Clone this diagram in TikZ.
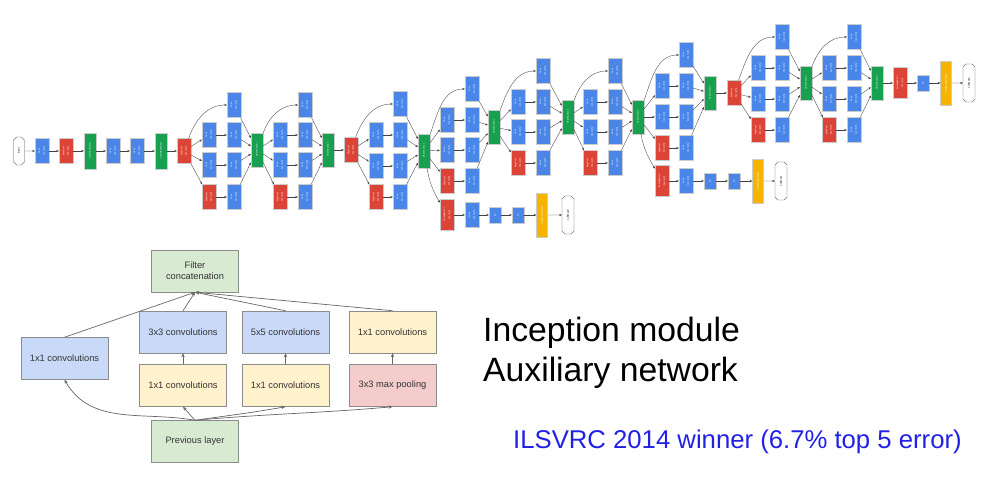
\documentclass[tikz,border=0pt]{standalone}
\usepackage{fontspec}
\usepackage{graphicx}
\setmainfont{Liberation Sans}
\usetikzlibrary{arrows.meta,shapes.misc}

\definecolor{gblue}{HTML}{4A86E8}
\definecolor{gred}{HTML}{DB4437}
\definecolor{ggreen}{HTML}{16A050}
\definecolor{gyellow}{HTML}{F6B400}
\definecolor{lblue}{HTML}{C9DAF8}
\definecolor{lyellow}{HTML}{FFF2CC}
\definecolor{lred}{HTML}{F4CCCC}
\definecolor{lgreen}{HTML}{D9EAD3}
\definecolor{ilsvrc}{HTML}{2121E6}

\newcommand{\vlab}[1]{\rotatebox{90}{\shortstack{#1}}}

\begin{document}
\begin{tikzpicture}[x=1pt,y=-1pt,>={Stealth[length=2.6pt,width=2.2pt]},
  blk/.style={draw=black!20,line width=0.3pt,inner sep=0pt,text=white,
    font=\fontsize{2.3}{2.6}\selectfont},
  conv/.style={blk,fill=gblue,minimum width=14pt,minimum height=25pt},
  pool/.style={blk,fill=gred,minimum width=14pt,minimum height=25pt},
  avgpool/.style={pool,minimum height=31pt},
  concat/.style={blk,fill=ggreen,minimum width=12pt,minimum height=34pt},
  lrn/.style={concat,minimum height=36pt},
  fc/.style={blk,fill=gblue,minimum width=12pt,minimum height=16pt},
  softact/.style={blk,fill=gyellow,minimum width=11pt,minimum height=44pt},
  endpt/.style={draw=black!70,line width=0.4pt,fill=white,chamfered rectangle,
    chamfered rectangle xsep=2pt,chamfered rectangle ysep=2pt,inner sep=0pt,
    minimum width=12pt,minimum height=38pt,font=\fontsize{2.6}{3}\selectfont},
  arr/.style={->,black!75,line width=0.35pt},
  ibox/.style={draw=black!45,line width=0.5pt,minimum width=87pt,minimum height=42pt,
    align=center,text=black!80,font=\fontsize{9.3}{11}\selectfont},
  iarr/.style={-{Stealth[length=4pt,width=3.4pt]},black!60,line width=0.7pt},
  bigtxt/.style={anchor=base west,inner sep=0pt,font=\fontsize{33.7}{40}\selectfont}]

\useasboundingbox (0,0) rectangle (994,486);

% The stem
\node[endpt,minimum height=28pt,minimum width=11pt] (in) at (19,151) {\rotatebox{90}{input}};
\node[conv] (c1) at (42,151) {\vlab{Conv\\7x7+2(S)}};
\node[pool] (mp1) at (66,151) {\vlab{MaxPool\\3x3+2(S)}};
\node[lrn] (lrn1) at (90,151) {\vlab{LocalRespNorm}};
\node[conv] (c2) at (113,151) {\vlab{Conv\\1x1+1(V)}};
\node[conv] (c3) at (137,151) {\vlab{Conv\\3x3+1(S)}};
\node[lrn] (lrn2) at (161,151) {\vlab{LocalRespNorm}};
\node[pool] (mp2) at (184,151) {\vlab{MaxPool\\3x3+2(S)}};
\node[pool] (mp3) at (351,150) {\vlab{MaxPool\\3x3+2(S)}};
\node[pool] (mp4) at (734,93) {\vlab{MaxPool\\3x3+2(S)}};

% The inception modules
\foreach \n/\p/\xl/\xr/\xc/\ya/\yb/\yc/\yd/\yk in {
  i3a/mp2/209/234/257/105/135/165/197/150,
  i3b/i3a/280/305/328/105/135/165/197/150,
  i4a/mp3/376/400/424/104/135/166/197/151,
  i4b/i4a/447/472/494/89/120/150/181/127,
  i4c/i4b/518/543/568/71/102/132/163/117,
  i4d/i4c/590/615/638/71/102/132/163/117,
  i4e/i4d/662/686/710/55/86/117/148/93,
  i5a/mp4/758/782/806/37/68/99/130/83,
  i5b/i5a/829/854/877/37/68/99/130/83}
{
  \node[conv] (\n-t) at (\xr,\ya) {\vlab{Conv\\1x1+1(S)}};
  \node[conv] (\n-a1) at (\xl,\yb) {\vlab{Conv\\1x1+1(S)}};
  \node[conv] (\n-a2) at (\xr,\yb) {\vlab{Conv\\3x3+1(S)}};
  \node[conv] (\n-b1) at (\xl,\yc) {\vlab{Conv\\1x1+1(S)}};
  \node[conv] (\n-b2) at (\xr,\yc) {\vlab{Conv\\5x5+1(S)}};
  \node[pool] (\n-c1) at (\xl,\yd) {\vlab{MaxPool\\3x3+1(S)}};
  \node[conv] (\n-c2) at (\xr,\yd) {\vlab{Conv\\1x1+1(S)}};
  \node[concat] (\n) at (\xc,\yk) {\vlab{DepthConcat}};
  \draw[arr] (\p) to[out=70,in=180] (\n-t);
  \draw[arr] (\p) -- (\n-a1);
  \draw[arr] (\p) -- (\n-b1);
  \draw[arr] (\p) -- (\n-c1);
  \draw[arr] (\n-a1) -- (\n-a2);
  \draw[arr] (\n-b1) -- (\n-b2);
  \draw[arr] (\n-c1) -- (\n-c2);
  \foreach \s in {t,a2,b2,c2}
    \draw[arr] (\n-\s) -- (\n);
}

% The head
\node[avgpool] (ap) at (900,83) {\vlab{AveragePool\\7x7+1(V)}};
\node[fc] (fc) at (923,83) {\vlab{FC}};
\node[softact] (sm) at (946,83) {\vlab{SoftmaxActivation}};
\node[endpt] (out2) at (969,83) {\rotatebox{90}{softmax2}};

% The auxiliary networks
\node[avgpool] (ap1) at (447,215) {\vlab{AveragePool\\5x5+3(V)}};
\node[conv] (cv1) at (472,215) {\vlab{Conv\\1x1+1(S)}};
\node[fc] (fc1a) at (495,215) {\vlab{FC}};
\node[fc] (fc1b) at (518,215) {\vlab{FC}};
\node[softact] (sm1) at (542,215) {\vlab{SoftmaxActivation}};
\node[endpt] (out0) at (568,215) {\rotatebox{90}{softmax0}};

\node[avgpool] (ap2) at (662,181) {\vlab{AveragePool\\5x5+3(V)}};
\node[conv] (cv2) at (686,181) {\vlab{Conv\\1x1+1(S)}};
\node[fc] (fc2a) at (710,181) {\vlab{FC}};
\node[fc] (fc2b) at (734,181) {\vlab{FC}};
\node[softact] (sm2) at (758,181) {\vlab{SoftmaxActivation}};
\node[endpt] (out1) at (781,181) {\rotatebox{90}{softmax1}};

\draw[arr] (i4a) to[out=-80,in=120] (ap1);
\draw[arr] (i4d) to[out=-80,in=120] (ap2);

\foreach \a/\b in {in/c1,c1/mp1,mp1/lrn1,lrn1/c2,c2/c3,c3/lrn2,lrn2/mp2,
  i3b/mp3,i4e/mp4,i5b/ap,ap/fc,fc/sm,sm/out2,
  ap1/cv1,cv1/fc1a,fc1a/fc1b,fc1b/sm1,sm1/out0,
  ap2/cv2,cv2/fc2a,fc2a/fc2b,fc2b/sm2,sm2/out1}
  \draw[arr] (\a) -- (\b);

% The inception module
\node[ibox,fill=lgreen] (filt) at (195,271) {Filter\\concatenation};
\node[ibox,fill=lblue] (b1) at (64.5,358.5) {1x1 convolutions};
\node[ibox,fill=lblue] (b2) at (183,332) {3x3 convolutions};
\node[ibox,fill=lblue] (b3) at (285.5,332) {5x5 convolutions};
\node[ibox,fill=lyellow] (b4) at (392.5,332) {1x1 convolutions};
\node[ibox,fill=lyellow] (r2) at (183,385.5) {1x1 convolutions};
\node[ibox,fill=lyellow] (r3) at (285.5,385.5) {1x1 convolutions};
\node[ibox,fill=lred] (r4) at (392.5,385.5) {3x3 max pooling};
\node[ibox,fill=lgreen] (prev) at (195,441.5) {Previous layer};

\draw[iarr] (prev.north) to[out=170,in=-60] (b1.south);
\draw[iarr] (prev.north) -- (r2.south);
\draw[iarr] (prev.north) to[out=8,in=190] (r3.south);
\draw[iarr] (prev.north) to[out=5,in=185] (r4.south);
\foreach \u/\v in {r2/b2,r3/b3,r4/b4}
  \draw[iarr] (\u) -- (\v);
\foreach \b in {b1,b2,b3,b4}
  \draw[iarr] (\b.north) -- (filt.south);

% The captions
\node[bigtxt] (t1) at (483,342) {Inception module};
\node[bigtxt] (t2) at (483,382) {Auxiliary network};
\node[bigtxt,text=ilsvrc,font=\fontsize{25.7}{30}\selectfont] (t3) at (513,448)
  {ILSVRC 2014 winner (6.7\% top 5 error)};

\end{tikzpicture}
\end{document}
